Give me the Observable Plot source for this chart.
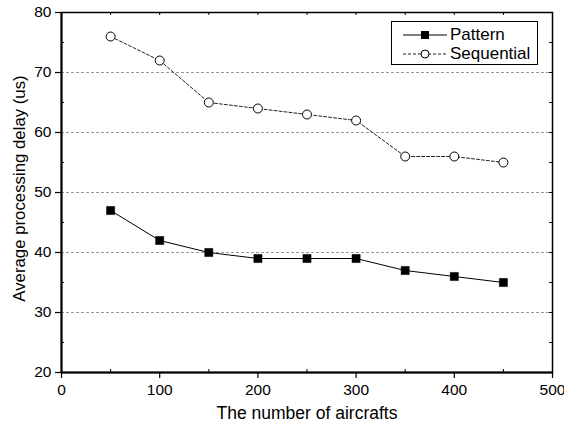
<!DOCTYPE html>
<html>
<head>
<meta charset="utf-8">
<script src="https://cdn.jsdelivr.net/npm/d3@7"></script>
<script src="https://cdn.jsdelivr.net/npm/@observablehq/plot@0.6"></script>
<style>
  body { margin: 0; background: white; }
  #wrap { position: relative; width: 564px; height: 431px; font-family: "Liberation Sans", Arial, sans-serif; }
  #legend { position: absolute; left: 391px; top: 21px; width: 147px; height: 44px; border: 1px solid black; background: white; box-sizing: border-box; }
  #legend .row { position: absolute; left: 0; height: 20px; display: flex; align-items: center; font-size: 17px; }
  #legend svg { display: block; }
</style>
</head>
<body>
<div id="wrap"></div>
<script>
const aircrafts = [50, 100, 150, 200, 250, 300, 350, 400, 450];
const pattern = [47, 42, 40, 39, 39, 39, 37, 36, 35];
const sequential = [76, 72, 65, 64, 63, 62, 56, 56, 55];
const seriesNames = ["Pattern", "Sequential"];
const xTicks = [0, 100, 200, 300, 400, 500];
const xMinor = [50, 150, 250, 350, 450];
const yTicks = [20, 30, 40, 50, 60, 70, 80];
const yMinor = [25, 35, 45, 55, 65, 75];
const gridY = [30, 40, 50, 60, 70];
const xLabel = "The number of aircrafts";
const yLabel = "Average processing delay (us)";

const patData = aircrafts.map((x, i) => ({x, y: pattern[i]}));
const seqData = aircrafts.map((x, i) => ({x, y: sequential[i]}));
const allX = xTicks.concat(xMinor);
const allY = yTicks.concat(yMinor);

const chart = Plot.plot({
  width: 564,
  height: 431,
  marginLeft: 61,
  marginRight: 12,
  marginTop: 12,
  marginBottom: 59,
  style: {fontFamily: '"Liberation Sans", Arial, sans-serif', color: "black", background: "white", overflow: "visible"},
  x: {domain: [0, 500]},
  y: {domain: [20, 80]},
  marks: [
    Plot.ruleY(gridY, {stroke: "#999", strokeDasharray: "3,2", strokeWidth: 1}),
    // inward minor ticks
    Plot.ruleX(xMinor, {y1: 20, y2: 20.5, stroke: "black", strokeWidth: 1}),
    Plot.ruleX(allX, {y1: 80, y2: 79.5, stroke: "black", strokeWidth: 1}),
    Plot.ruleY(yMinor, {x1: 0, x2: 3, stroke: "black", strokeWidth: 1}),
    Plot.ruleY(allY, {x1: 500, x2: 497, stroke: "black", strokeWidth: 1}),
    Plot.frame({stroke: "black", strokeWidth: 1.5}),
    Plot.ruleX([0], {stroke: "black", strokeWidth: 2}),
    Plot.ruleY([20], {stroke: "black", strokeWidth: 2}),
    Plot.axisX({ticks: xTicks, tickSize: 6, tickPadding: 5, fontSize: 15.5, label: null, strokeWidth: 1.2}),
    Plot.axisY({ticks: yTicks, tickSize: 6, tickPadding: 4, fontSize: 15.5, label: null, strokeWidth: 1.2}),
    Plot.text([xLabel], {frameAnchor: "bottom", textAnchor: "middle", dy: 41, lineAnchor: "middle", fontSize: 17.5}),
    Plot.text([yLabel], {frameAnchor: "left", textAnchor: "middle", lineAnchor: "middle", dx: -42, dy: -4, rotate: -90, fontSize: 16.8}),
    Plot.line(seqData, {x: "x", y: "y", stroke: "#222", strokeWidth: 1, strokeDasharray: "3,2"}),
    Plot.line(patData, {x: "x", y: "y", stroke: "black", strokeWidth: 1}),
    Plot.dot(seqData, {x: "x", y: "y", r: 4.5, stroke: "black", fill: "white", strokeWidth: 1}),
    Plot.dot(patData, {x: "x", y: "y", symbol: "square", r: 4.6, fill: "black", stroke: "black", strokeWidth: 0.5})
  ]
});

const wrap = document.getElementById("wrap");
wrap.appendChild(chart);

const legend = document.createElement("div");
legend.id = "legend";
legend.innerHTML = `
  <div class="row" style="top:3px">
    <svg width="58" height="20"><line x1="11" x2="55" y1="10" y2="10" stroke="black" stroke-width="1"/><rect x="29" y="6" width="8" height="8" fill="black"/></svg>
    <span>${seriesNames[0]}</span>
  </div>
  <div class="row" style="top:22px">
    <svg width="58" height="20"><line x1="11" x2="55" y1="10" y2="10" stroke="#222" stroke-width="1" stroke-dasharray="3,2"/><circle cx="33" cy="10" r="4" fill="white" stroke="black"/></svg>
    <span>${seriesNames[1]}</span>
  </div>`;
wrap.appendChild(legend);
</script>
</body>
</html>
